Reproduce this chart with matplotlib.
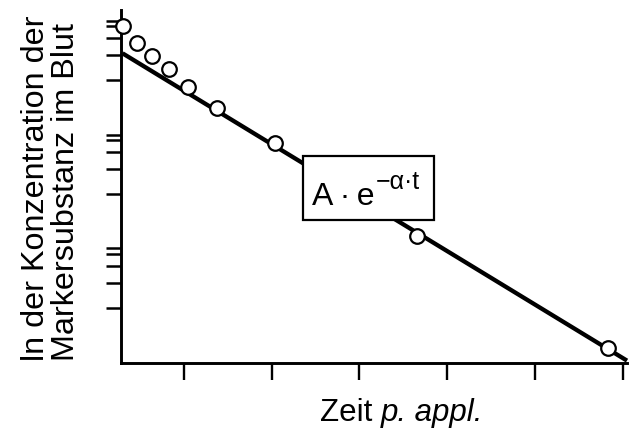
import numpy as np
import matplotlib
matplotlib.use("Agg")
import matplotlib.pyplot as plt
from matplotlib.patches import Rectangle

plt.rcParams['font.family'] = ['Liberation Sans', 'DejaVu Sans']

# measured points (time in tick units, concentration on log axis)
t_meas = [0.31, 0.47, 0.64, 0.83, 1.05, 1.38, 2.04, 3.66, 5.83]
c_meas = [898, 641, 490, 379, 263, 172, 84, 12.9, 1.32]

# fitted line, two end points
t_fit = [0.30, 6.05]
c_fit = [517, 1.03]

x_ticks = [1, 2, 3, 4, 5, 6]
decades = [10, 100, 1000]
minor_steps = [1.0, 0.9, 0.7, 0.5, 0.3]

xlabel_plain = 'Zeit '
xlabel_ital = 'p. appl.'
ylabel = 'ln der Konzentration der\nMarkersubstanz im Blut'
formula_base = 'A\u2009·\u2009e'
formula_exp = '\u2212α·t'

W, H = 637, 429
fig = plt.figure(figsize=(W / 100, H / 100), dpi=100)
ax = fig.add_axes([121 / W, 1 - 362.5 / H, (627 - 121) / W, (362.5 - 10) / H])

def px(x, y):
    # pixel (from top left) -> figure fraction
    return x / W, 1 - y / H

ax.set_yscale('log')
ax.plot(t_fit, c_fit, color='black', lw=3.1, solid_capstyle='butt', zorder=2, clip_on=False)
ax.plot(t_meas, c_meas, 'o', ms=10.5, mfc='white', mec='black', mew=1.6, zorder=3, clip_on=False)

ax.set_xlim(0.2825, 6.05)
ax.set_ylim(0.992, 1242)

ax.set_xticks(x_ticks)
ax.set_xticklabels([])
yt = [d * s for d in decades for s in minor_steps]
ax.set_yticks(yt)
ax.set_yticklabels([])
ax.yaxis.set_minor_locator(matplotlib.ticker.NullLocator())
ax.tick_params(axis='x', direction='out', length=12.5, width=1.7, color='black')
ax.tick_params(axis='y', direction='out', length=11, width=1.8, color='black')

for s in ['top', 'right']:
    ax.spines[s].set_visible(False)
for s in ['left', 'bottom']:
    ax.spines[s].set_linewidth(2.1)

# formula box
x0, y0 = px(303, 220)
x1, y1 = px(434, 156)
fig.patches.append(Rectangle((x0, y0), x1 - x0, y1 - y0, transform=fig.transFigure,
                             fc='white', ec='black', lw=1.6, zorder=5))
fb = fig.text(*px(312, 205), formula_base, fontsize=23, ha='left', va='baseline', zorder=6)
fig.canvas.draw()
bb = fb.get_window_extent()
fig.text((bb.x1 + 1) / W, 1 - 189 / H, formula_exp, fontsize=18, ha='left', va='baseline', zorder=6)

# x label: plain + italic
xl = fig.text(*px(320, 420.7), xlabel_plain, fontsize=22.5, ha='left', va='baseline')
fig.canvas.draw()
bb = xl.get_window_extent()
fig.text(bb.x1 / W, 1 - 420.7 / H, xlabel_ital, fontsize=22.5, style='italic', ha='left', va='baseline')

fig.text(*px(51, 188), ylabel, fontsize=23.3, ha='center', va='center',
         rotation=90, multialignment='left', linespacing=1.0)

fig.savefig('out.png', dpi=100)
